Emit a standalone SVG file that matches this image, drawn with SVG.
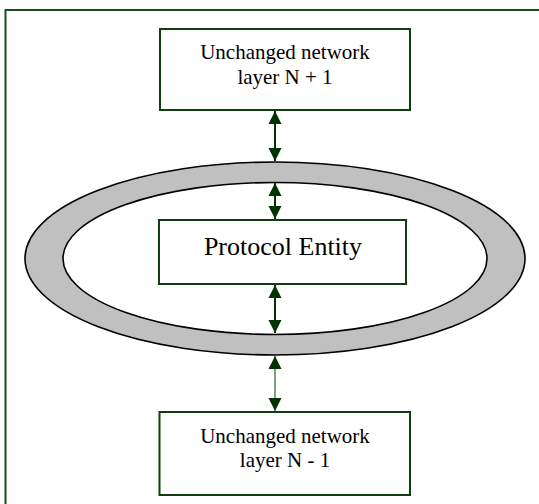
<svg xmlns="http://www.w3.org/2000/svg" width="539" height="504" viewBox="0 0 539 504">
  <style>
    .frame { fill: none; stroke: #1b4d1b; stroke-width: 2; }
    .box { fill: #ffffff; stroke: #0f3f0f; stroke-width: 2; }
    .lbl { font-family: "Liberation Serif", "Times New Roman", serif; fill: #000000; text-anchor: middle; }
    .small { font-size: 21px; }
    .big { font-size: 26px; }
    .conn { stroke: #003300; stroke-width: 2; fill: none; marker-start: url(#ah); marker-end: url(#ah); }
    .thin { stroke: #2f5f2f; stroke-width: 1.2; }
  </style>
  <defs>
    <marker id="ah" markerUnits="userSpaceOnUse" markerWidth="14" markerHeight="14" viewBox="0 0 14 14" refX="13" refY="7" orient="auto-start-reverse">
      <path d="M0,0.5 L13,7 L0,13.5 Z" fill="#003300"/>
    </marker>
  </defs>
  <rect width="539" height="504" fill="#ffffff"/>
  <path class="frame" d="M5.5,520 L5.5,10 L560,10"/>
  <g id="ring">
    <path d="M25,258.5 a250,96.5 0 1,0 500,0 a250,96.5 0 1,0 -500,0 Z M63,258.5 a212,76 0 1,1 424,0 a212,76 0 1,1 -424,0 Z" fill="#c0c0c0" fill-rule="evenodd" stroke="#000000" stroke-width="1.6"/>
  </g>
  <g id="layer-n-plus-1">
    <rect class="box" x="160" y="29" width="250" height="81"/>
    <text class="lbl small" x="285" y="59">Unchanged network</text>
    <text class="lbl small" x="285" y="84">layer N + 1</text>
  </g>
  <g id="protocol-entity">
    <rect class="box" x="159" y="220" width="247" height="64"/>
    <text class="lbl big" x="283" y="255">Protocol Entity</text>
  </g>
  <g id="layer-n-minus-1">
    <rect class="box" x="159.5" y="412" width="250.5" height="83"/>
    <text class="lbl small" x="285" y="443">Unchanged network</text>
    <text class="lbl small" x="285" y="467">layer N - 1</text>
  </g>
  <g id="connectors">
    <line class="conn" x1="275" y1="111" x2="275" y2="161"/>
    <line class="conn" x1="275" y1="183" x2="275" y2="219"/>
    <line class="conn" x1="275" y1="285" x2="275" y2="333"/>
    <line class="conn thin" x1="275" y1="356" x2="275" y2="411"/>
  </g>
</svg>
